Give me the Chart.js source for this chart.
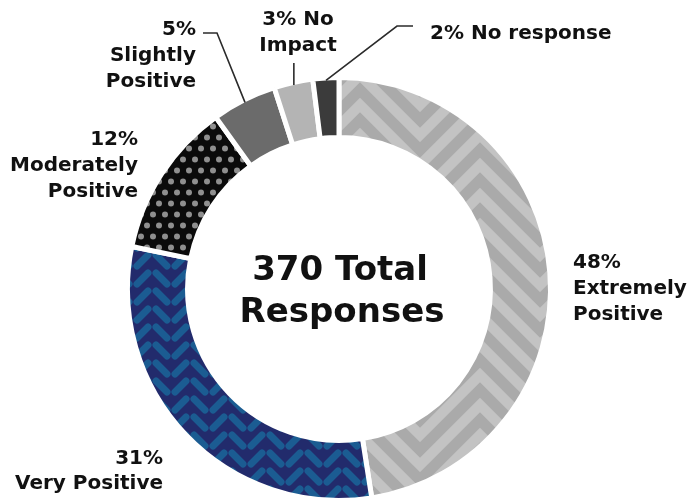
<!DOCTYPE html>
<html>
<head>
<meta charset="utf-8">
<script src="https://cdn.jsdelivr.net/npm/chart.js@4/dist/chart.umd.min.js"></script>
<style>
  html, body { margin: 0; padding: 0; background: #ffffff; }
  canvas { display: block; }
</style>
</head>
<body>
<canvas id="donut" width="691" height="503"></canvas>
<script>
// ---- data ----
const categories = ['Extremely Positive', 'Very Positive', 'Moderately Positive', 'Slightly Positive', 'No Impact', 'No response'];
const percents = [48, 31, 12, 5, 3, 2];
const totalResponses = 370;
// words per printed line for each slice label ("48%" counts as the first word)
const labelWordsPerLine = [[1, 1, 1], [1, 2], [1, 1, 1], [1, 1, 1], [2, 1], [3]];

// ---- fills ----
function makeTile(w, h, paint) {
  const c = document.createElement('canvas');
  c.width = w; c.height = h;
  paint(c.getContext('2d'), w, h);
  return c;
}

function chevronFill(ctx) {
  const tile = makeTile(120, 30, (g, W, H) => {
    g.fillStyle = '#c3c3c3';
    g.fillRect(0, 0, W, H);
    g.strokeStyle = '#aaaaaa';
    g.lineWidth = 11;
    g.lineJoin = 'miter';
    for (let k = -4; k <= 2; k++) {
      const oy = k * H;
      g.beginPath();
      g.moveTo(-60, oy + 60);
      g.lineTo(0, oy);
      g.lineTo(60, oy + 60);
      g.lineTo(120, oy);
      g.lineTo(180, oy + 60);
      g.stroke();
    }
  });
  return ctx.createPattern(tile, 'repeat');
}

function herringboneFill(ctx) {
  const tile = makeTile(38, 18, (g, W, H) => {
    g.fillStyle = '#222b6c';
    g.fillRect(0, 0, W, H);
    g.strokeStyle = '#1b5c92';
    g.lineWidth = 7;
    g.lineCap = 'round';
    for (let k = -1; k <= 1; k++) {
      const oy = k * H;
      g.beginPath();
      g.moveTo(4, oy + 3); g.lineTo(15, oy + 14);
      g.moveTo(23, oy + 14); g.lineTo(34, oy + 3);
      g.stroke();
    }
  });
  return ctx.createPattern(tile, 'repeat');
}

function dotFill(ctx) {
  const tile = makeTile(12, 22, (g, W, H) => {
    g.fillStyle = '#0b0b0b';
    g.fillRect(0, 0, W, H);
    g.fillStyle = '#8f8f8f';
    [[3, 5.5], [9, 16.5]].forEach(([x, y]) => {
      g.beginPath();
      g.arc(x, y, 3, 0, Math.PI * 2);
      g.fill();
    });
  });
  return ctx.createPattern(tile, 'repeat');
}

const canvas = document.getElementById('donut');
const ctx = canvas.getContext('2d');
const fills = [chevronFill(ctx), herringboneFill(ctx), dotFill(ctx), '#6b6b6b', '#b4b4b4', '#3b3b3b'];

// ---- label layout ----
const FONT = '"DejaVu Sans", sans-serif';
const TEXT = '#111111';
const labelLayout = [
  { x: 573, y: 268, align: 'left',   lh: 26 },
  { x: 163, y: 464, align: 'right',  lh: 25 },
  { x: 138, y: 145, align: 'right',  lh: 26 },
  { x: 196, y: 35,  align: 'right',  lh: 26, leader: [[217, 33], [203, 33]] },
  { x: 298, y: 25,  align: 'center', lh: 26, leader: [[null, 63]] },
  { x: 430, y: 39,  align: 'left',   lh: 26, leader: [[397, 26], [413, 26]] }
];

function labelLines(i) {
  const words = (percents[i] + '% ' + categories[i]).split(' ');
  const lines = [];
  let p = 0;
  labelWordsPerLine[i].forEach(n => { lines.push(words.slice(p, p + n).join(' ')); p += n; });
  return lines;
}

const BORDER = 5;

const labelsPlugin = {
  id: 'sliceLabels',
  afterDraw(chart) {
    const c = chart.ctx;
    const meta = chart.getDatasetMeta(0);
    c.save();
    // leader lines
    c.strokeStyle = '#2b2b2b';
    c.lineWidth = 1.6;
    meta.data.forEach((arc, i) => {
      const L = labelLayout[i];
      if (!L.leader) return;
      const { x, y, startAngle, endAngle, outerRadius } = arc.getProps(['x', 'y', 'startAngle', 'endAngle', 'outerRadius'], true);
      const mid = (startAngle + endAngle) / 2;
      const r = outerRadius - BORDER / 2;
      const ax = x + Math.cos(mid) * r;
      const ay = y + Math.sin(mid) * r;
      c.beginPath();
      c.moveTo(ax, ay);
      L.leader.forEach(([px, py]) => c.lineTo(px === null ? ax : px, py));
      c.stroke();
    });
    // slice labels
    c.fillStyle = TEXT;
    c.font = 'bold 20px ' + FONT;
    c.textBaseline = 'alphabetic';
    meta.data.forEach((arc, i) => {
      const L = labelLayout[i];
      c.textAlign = L.align;
      labelLines(i).forEach((t, j) => c.fillText(t, L.x, L.y + j * L.lh));
    });
    // centre caption
    const { x, y } = meta.data[0].getProps(['x', 'y'], true);
    c.textAlign = 'center';
    c.font = 'bold 34px ' + FONT;
    c.fillText(totalResponses + ' Total', x + 1, y - 9);
    c.fillText('Responses', x + 3, y + 33);
    c.restore();
  }
};

new Chart(canvas, {
  type: 'doughnut',
  data: {
    labels: categories,
    datasets: [{
      data: percents,
      backgroundColor: fills,
      borderColor: '#ffffff',
      borderWidth: BORDER,
      hoverOffset: 0
    }]
  },
  options: {
    responsive: false,
    animation: false,
    devicePixelRatio: 1,
    cutout: '71.6%',
    layout: { padding: { left: 125, right: 138, top: 75, bottom: 0 } },
    plugins: {
      legend: { display: false },
      tooltip: { enabled: false }
    }
  },
  plugins: [labelsPlugin]
});
</script>
</body>
</html>
